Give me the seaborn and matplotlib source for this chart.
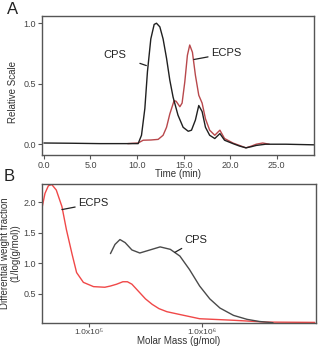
import numpy as np
import pandas as pd
import matplotlib
matplotlib.use("Agg")
import matplotlib.pyplot as plt
import seaborn as sns

# ---- Panel A data: elution profiles (time in min, relative scale) ----
cps_time = [0.0, 3.0, 6.0, 9.0, 9.7, 10.12, 10.48, 10.84, 11.12, 11.48, 11.84, 12.09, 12.45,
            12.8, 13.17, 13.52, 13.87, 14.4, 14.95, 15.5, 15.85, 16.27, 16.63, 16.99, 17.35,
            17.8, 18.35, 18.9, 19.4, 20.3, 21.0, 21.7, 22.3, 22.8, 23.8, 26.0, 29.0]
cps_signal = [0.01, 0.008, 0.005, 0.005, 0.005, 0.005, 0.074, 0.295, 0.60, 0.87, 0.99, 1.0, 0.97,
              0.87, 0.71, 0.53, 0.39, 0.24, 0.14, 0.107, 0.116, 0.20, 0.32, 0.27, 0.14,
              0.074, 0.047, 0.088, 0.033, 0.005, -0.015, -0.03, -0.02, -0.01, 0.0, 0.0, -0.005]

ecps_time = [9.0, 9.6, 10.12, 10.66, 11.5, 12.27, 12.8, 13.17, 13.52, 13.98, 14.2, 14.6, 14.84,
             15.13, 15.41, 15.66, 15.95, 16.27, 16.63, 16.99, 17.35, 17.8, 18.35, 18.9, 19.4,
             20.3, 21.0, 21.7, 22.3, 22.8, 23.5, 24.2]
ecps_signal = [0.005, 0.008, 0.01, 0.033, 0.035, 0.04, 0.074, 0.14, 0.25, 0.36, 0.355, 0.31, 0.34,
               0.515, 0.735, 0.82, 0.76, 0.57, 0.405, 0.34, 0.21, 0.116, 0.074, 0.116, 0.047,
               0.01, -0.01, -0.03, -0.015, 0.0, 0.01, 0.0]

# ---- Panel B data: molar mass distributions (log10 of g/mol) ----
ecps_log_mass = [4.58, 4.61, 4.64, 4.67, 4.71, 4.76, 4.80, 4.85, 4.89, 4.95, 5.04, 5.14, 5.19,
                 5.245, 5.30, 5.34, 5.38, 5.45, 5.50, 5.56, 5.62, 5.69, 5.79, 5.98, 6.28,
                 6.57, 7.0]
ecps_fraction = [1.875, 2.145, 2.27, 2.29, 2.2, 1.93, 1.55, 1.15, 0.85, 0.69, 0.62, 0.61, 0.63,
                 0.66, 0.70, 0.70, 0.66, 0.52, 0.42, 0.33, 0.26, 0.21, 0.17, 0.095, 0.07,
                 0.04, 0.035]

cps_log_mass = [5.19, 5.23, 5.274, 5.32, 5.38, 5.45, 5.54, 5.63, 5.72, 5.805, 5.89, 5.98, 6.07,
                6.16, 6.28, 6.40, 6.51, 6.63]
cps_fraction = [1.16, 1.31, 1.39, 1.34, 1.22, 1.17, 1.22, 1.27, 1.23, 1.12, 0.90, 0.63, 0.42,
                0.27, 0.15, 0.085, 0.05, 0.03]

mass_tick_labels = ["1.0x10\u2075", "1.0x10\u2076"]

dfA = pd.concat([
    pd.DataFrame({"t": ecps_time, "v": ecps_signal, "s": "ECPS"}),
    pd.DataFrame({"t": cps_time, "v": cps_signal, "s": "CPS"}),
])
dfB = pd.concat([
    pd.DataFrame({"m": 10 ** np.array(ecps_log_mass), "v": ecps_fraction, "s": "ECPS"}),
    pd.DataFrame({"m": 10 ** np.array(cps_log_mass), "v": cps_fraction, "s": "CPS"}),
])

sns.set_theme(style="white")
plt.rcParams["font.family"] = ["Liberation Sans", "DejaVu Sans"]

fig = plt.figure(figsize=(3.26, 3.47), dpi=100)
axA = fig.add_axes([0.129, 0.553, 0.834, 0.401])
axB = fig.add_axes([0.129, 0.070, 0.840, 0.400])

gray = "#555555"
for ax in (axA, axB):
    for sp in ax.spines.values():
        sp.set_color(gray)
        sp.set_linewidth(1.0)
    ax.tick_params(axis="both", colors=gray, labelsize=6.5, length=3, width=0.8,
                   direction="out", bottom=True, left=True, pad=1.5)
    ax.tick_params(axis="both", labelcolor="#444444")

# Panel A
sns.lineplot(data=dfA, x="t", y="v", hue="s", palette={"ECPS": "#b8484c", "CPS": "#202020"},
             hue_order=["ECPS", "CPS"], linewidth=1.0, ax=axA, legend=False, sort=True,
             estimator=None)
axA.set_xlim(-0.2, 29.0)
axA.set_ylim(-0.09, 1.06)
axA.set_xticks([0, 5, 10, 15, 20, 25])
axA.set_xticklabels(["0.0", "5.0", "10.0", "15.0", "20.0", "25.0"])
axA.set_yticks([0.0, 0.5, 1.0])
axA.set_yticklabels(["0.0", "0.5", "1.0"])
axA.set_xlabel("Time (min)", fontsize=7, color="#333333")
axA.set_ylabel("Relative Scale", fontsize=7, color="#333333")
axA.xaxis.set_label_coords(0.5, -0.1)
axA.yaxis.set_label_coords(-0.088, 0.45)
axA.text(-0.13, 1.045, "A", transform=axA.transAxes, fontsize=12, color="#222222",
         ha="left", va="center")
axA.annotate("CPS", xy=(11.0, 0.65), xytext=(7.6, 0.74), fontsize=8, color="#222222",
             ha="center", va="center",
             arrowprops=dict(arrowstyle="-", color="#222222", lw=0.9, shrinkA=8, shrinkB=0))
axA.annotate("ECPS", xy=(16.1, 0.70), xytext=(19.6, 0.75), fontsize=8, color="#222222",
             ha="center", va="center",
             arrowprops=dict(arrowstyle="-", color="#222222", lw=0.9, shrinkA=11, shrinkB=0))

# Panel B
sns.lineplot(data=dfB, x="m", y="v", hue="s", palette={"ECPS": "#f04848", "CPS": "#4a4a4a"},
             hue_order=["ECPS", "CPS"], linewidth=1.0, ax=axB, legend=False, sort=True,
             estimator=None)
axB.set_xscale("log")
axB.set_xlim(10 ** 4.584, 10 ** 7.01)
axB.set_ylim(0.03, 2.30)
axB.set_xticks([1e5, 1e6])
axB.set_xticklabels(mass_tick_labels)
axB.xaxis.set_minor_locator(matplotlib.ticker.LogLocator(base=10, subs=np.arange(2, 10)))
axB.xaxis.set_minor_formatter(matplotlib.ticker.NullFormatter())
axB.tick_params(axis="x", which="major", pad=1.5, labelsize=6)
axB.tick_params(axis="x", which="minor", length=2, width=0.6, colors=gray)
axB.set_yticks([0.5, 1.0, 1.5, 2.0])
axB.set_yticklabels(["0.5", "1.0", "1.5", "2.0"])
axB.set_xlabel("Molar Mass (g/mol)", fontsize=7, color="#333333")
axB.set_ylabel("Differential weight fraction\n(1/log(g/mol))", fontsize=7,
               color="#333333", linespacing=1.1)
axB.xaxis.set_label_coords(0.5, -0.095)
axB.yaxis.set_label_coords(-0.078, 0.5)
axB.text(-0.14, 1.055, "B", transform=axB.transAxes, fontsize=12, color="#222222",
         ha="left", va="center")
axB.annotate("ECPS", xy=(10 ** 4.76, 1.88), xytext=(10 ** 5.04, 1.98), fontsize=8,
             color="#222222", ha="center", va="center",
             arrowprops=dict(arrowstyle="-", color="#222222", lw=0.9, shrinkA=11, shrinkB=0))
axB.annotate("CPS", xy=(10 ** 5.76, 1.18), xytext=(10 ** 5.95, 1.38), fontsize=8,
             color="#222222", ha="center", va="center",
             arrowprops=dict(arrowstyle="-", color="#222222", lw=0.9, shrinkA=7, shrinkB=0))

fig.savefig("out.png", dpi=100)
